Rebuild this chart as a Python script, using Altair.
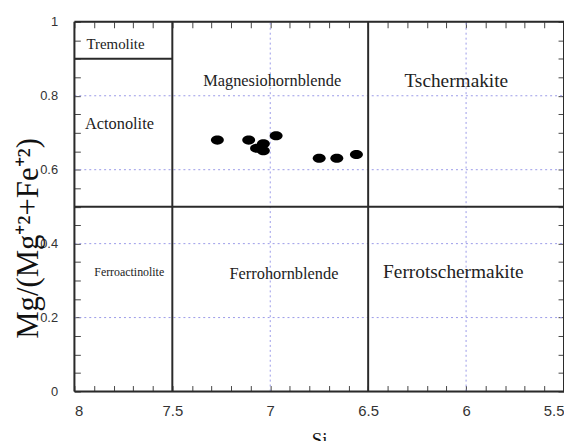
import altair as alt
import pandas as pd

# ---- data ----
si = [7.27, 7.11, 7.07, 7.035, 7.035, 6.97, 6.75, 6.66, 6.56]
mg = [0.680, 0.680, 0.658, 0.670, 0.651, 0.692, 0.631, 0.631, 0.641]

zone_names = ["Tremolite", "Actonolite", "Magnesiohornblende", "Tschermakite",
              "Ferroactinolite", "Ferrohornblende", "Ferrotschermakite"]
zone_si = [7.79, 7.77, 6.99, 6.05, 7.72, 6.93, 6.065]
zone_mg = [0.941, 0.724, 0.839, 0.839, 0.324, 0.319, 0.322]

# field boundaries and plot frame (segments in data units)
bound_x1 = [7.5, 6.5, 8.0, 8.0, 8.0, 5.5, 8.0, 8.0]
bound_x2 = [7.5, 6.5, 5.5, 7.5, 8.0, 5.5, 5.5, 5.5]
bound_y1 = [0.0, 0.0, 0.5, 0.9, 0.0, 0.0, 0.0, 1.0]
bound_y2 = [1.0, 1.0, 0.5, 0.9, 1.0, 1.0, 0.0, 1.0]

x_grid = [7, 6]
y_grid = [0.2, 0.4, 0.6, 0.8]
# all tick positions (labels shown only at the major ones)
x_all = [8.0, 7.9, 7.8, 7.7, 7.6, 7.5, 7.4, 7.3, 7.2, 7.1, 7.0, 6.9, 6.8, 6.7,
         6.6, 6.5, 6.4, 6.3, 6.2, 6.1, 6.0, 5.9, 5.8, 5.7, 5.6, 5.5]
y_all = [0.0, 0.05, 0.1, 0.15, 0.2, 0.25, 0.3, 0.35, 0.4, 0.45, 0.5, 0.55,
         0.6, 0.65, 0.7, 0.75, 0.8, 0.85, 0.9, 0.95, 1.0]

# ---- styles ----
label_size = {"Tremolite": 15, "Actonolite": 16.5, "Magnesiohornblende": 16.5,
              "Tschermakite": 19.5, "Ferroactinolite": 12, "Ferrohornblende": 16.5,
              "Ferrotschermakite": 19.5}
W, H = 494, 373
TK = 6
SERIF = "Liberation Serif"
SANS = "Liberation Sans"
LINE = "#2a2a2a"
GRID = "#9a9ae8"
ELLIPSE = "M -1 0 A 1 0.7 0 1 0 1 0 A 1 0.7 0 1 0 -1 0 Z"

xscale = alt.Scale(domain=[5.5, 8], reverse=True, nice=False, zero=False)
yscale = alt.Scale(domain=[0, 1], nice=False, zero=False)

x_major_expr = "abs(datum.value*2 - round(datum.value*2)) < 0.001 ? format(datum.value, '~g') : ''"
y_major_expr = "abs(datum.value*5 - round(datum.value*5)) < 0.001 ? format(datum.value, '~g') : ''"

tick_common = dict(ticks=True, tickSize=TK, tickColor="#444", tickWidth=1,
                   offset=-TK, domain=False, grid=False)

xaxis = alt.Axis(orient="bottom", values=x_all, labelExpr=x_major_expr,
                 title="Si", titleFont=SERIF, titleFontSize=19,
                 titleFontWeight="normal", titleColor="#111", titlePadding=12,
                 labelFont=SANS, labelFontSize=15, labelColor="#333",
                 labelPadding=12, labelOverlap=False, **tick_common)
yaxis = alt.Axis(orient="left", values=y_all, labelExpr=y_major_expr,
                 title="Mg/(Mg⁺²+Fe⁺²)", titleFont=SERIF, titleFontSize=31,
                 titleFontWeight="normal", titleColor="#111", titleAngle=270,
                 titleAlign="center", titleBaseline="middle", titleX=-52,
                 titleY=218, labelFont=SANS, labelFontSize=13,
                 labelColor="#333", labelPadding=17, labelOverlap=False,
                 **tick_common)
xaxis_top = alt.Axis(orient="top", values=x_all, labels=False, title=None,
                     **tick_common)
yaxis_right = alt.Axis(orient="right", values=y_all, labels=False, title=None,
                       **tick_common)


def X(field):
    return alt.X(field, type="quantitative", scale=xscale, axis=xaxis)


def Y(field):
    return alt.Y(field, type="quantitative", scale=yscale, axis=yaxis)


pts = pd.DataFrame({"si": si, "mg": mg})
zones = pd.DataFrame({"name": zone_names, "si": zone_si, "mg": zone_mg})
bounds = pd.DataFrame({"x1": bound_x1, "x2": bound_x2, "y1": bound_y1, "y2": bound_y2})
grid_df = pd.DataFrame(
    [{"x1": v, "x2": v, "y1": 0.0, "y2": 1.0} for v in x_grid]
    + [{"x1": 8.0, "x2": 5.5, "y1": v, "y2": v} for v in y_grid])

grid = alt.Chart(grid_df).mark_rule(color=GRID, strokeDash=[2, 3], strokeWidth=1).encode(
    x=X("x1"), x2="x2", y=Y("y1"), y2="y2")

boundary = alt.Chart(bounds).mark_rule(color=LINE, strokeWidth=2).encode(
    x=X("x1"), x2="x2", y=Y("y1"), y2="y2")

texts = []
for name in zone_names:
    texts.append(
        alt.Chart(zones).transform_filter(alt.datum.name == name)
        .mark_text(font=SERIF, fontSize=label_size[name], color="#222",
                   align="center", baseline="middle")
        .encode(x=X("si"), y=Y("mg"), text="name:N")
    )

points = alt.Chart(pts).mark_point(shape=ELLIPSE, filled=True, color="#000",
                                   opacity=1, size=170).encode(
    x=X("si"), y=Y("mg"))

main = alt.layer(grid, boundary, *texts, points)

mirror = alt.Chart(pts).mark_point(opacity=0).encode(
    x=alt.X("si", type="quantitative", scale=xscale, axis=xaxis_top),
    y=alt.Y("mg", type="quantitative", scale=yscale, axis=yaxis_right))

chart = alt.layer(main, mirror).resolve_axis(x="independent", y="independent").properties(
    width=W, height=H,
    autosize=alt.AutoSizeParams(type="none"),
    padding={"left": 67, "top": 12, "right": 0, "bottom": 48},
).configure_view(stroke=None).configure(background="white")

chart.save("out.html", embed_options={"renderer": "svg", "actions": False})
